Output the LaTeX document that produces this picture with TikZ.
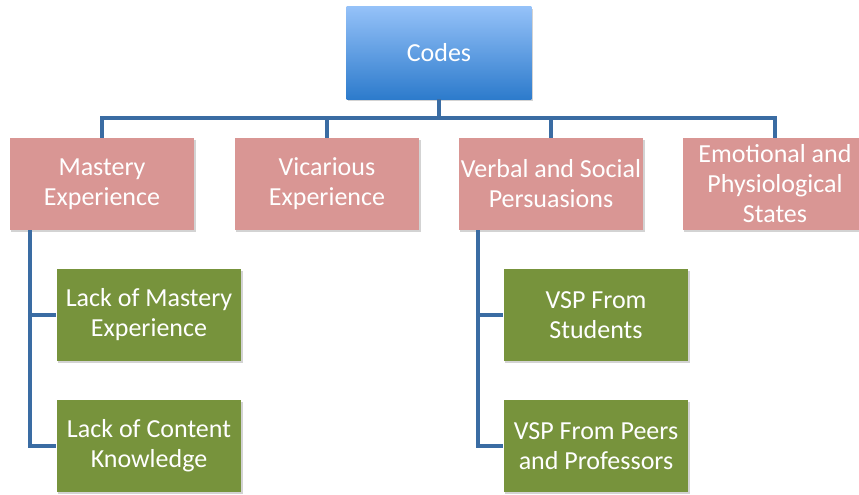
\documentclass[tikz,border=0pt]{standalone}
\usepackage{fontspec}
\setmainfont{Carlito}
\usetikzlibrary{positioning,shadows}
\definecolor{codeblue}{HTML}{2D7BCC}
\definecolor{codelight}{HTML}{94C1F8}
\definecolor{sourcepink}{HTML}{D99694}
\definecolor{subgreen}{HTML}{77933C}
\definecolor{linkblue}{HTML}{3A6CA3}

\begin{document}
\begin{tikzpicture}[x=0.75pt, y=0.75pt,
  every node/.style={inner sep=1pt, align=center, text=white,
    font=\fontsize{19.5}{22.5}\selectfont},
  box/.style={rectangle, minimum width=138.5pt, minimum height=69pt,
    drop shadow={opacity=0.35, shadow xshift=1pt, shadow yshift=-1.2pt}},
  rootbox/.style={box, top color=codelight, bottom color=codeblue},
  sourcebox/.style={box, fill=sourcepink},
  codebox/.style={box, fill=subgreen},
  link/.style={draw=linkblue, line width=2.8pt}]
  \clip (0,0) rectangle (859,494);
  \useasboundingbox (0,0) rectangle (859,494);
  \node[rootbox] (codes) at (439,441) {Codes};
  \node[sourcebox] (mastery) at (102,310) {Mastery\\Experience};
  \node[sourcebox] (vicarious) at (327,310) {Vicarious\\Experience};
  \node[sourcebox] (verbal) at (551,310) {Verbal and Social\\Persuasions};
  \node[sourcebox] (emotional) at (775,310) {Emotional and\\Physiological\\States};
  \node[codebox] (lackmastery) at (149,179) {Lack of Mastery\\Experience};
  \node[codebox] (lackcontent) at (149,48) {Lack of Content\\Knowledge};
  \node[codebox] (vspstudents) at (596,179) {VSP From\\Students};
  \node[codebox] (vsppeers) at (596,48) {VSP From Peers\\and Professors};
  % bus from the root to the four sources
  \coordinate (bus) at (439,376);
  \draw[link] (codes.south) -- (bus);
  \foreach \src in {mastery,vicarious,verbal,emotional}
    \draw[link] (\src.north) |- (bus);
  % trunks down to the codes
  \coordinate (mtrunk) at (30,310);
  \coordinate (vtrunk) at (478,310);
  \draw[link] (mastery.south -| mtrunk) |- (lackcontent.west);
  \draw[link] (mtrunk |- lackmastery.west) -- (lackmastery.west);
  \draw[link] (verbal.south -| vtrunk) |- (vsppeers.west);
  \draw[link] (vtrunk |- vspstudents.west) -- (vspstudents.west);
\end{tikzpicture}
\end{document}
